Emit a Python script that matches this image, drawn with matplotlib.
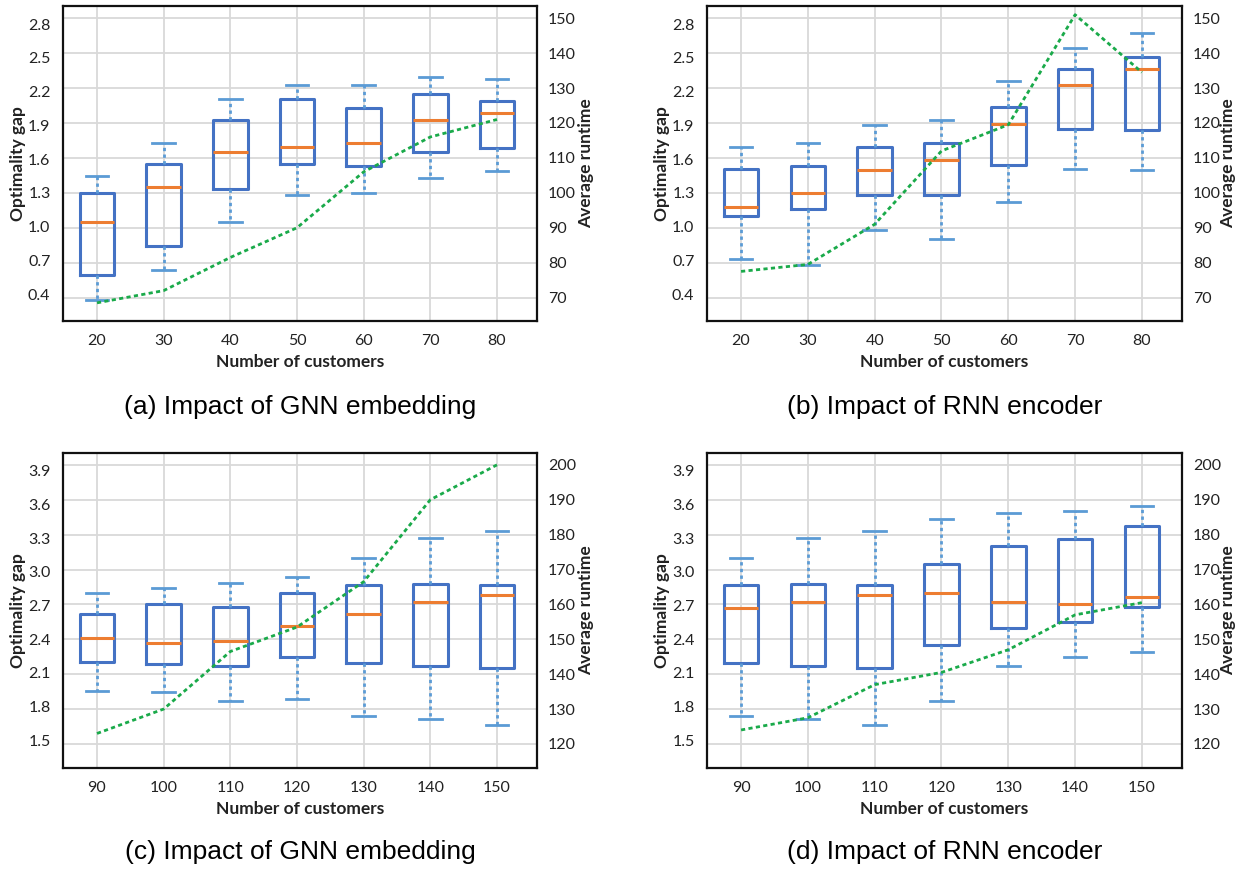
import matplotlib.pyplot as plt

W, H = 1240, 871

customers_small = [20, 30, 40, 50, 60, 70, 80]
customers_large = [90, 100, 110, 120, 130, 140, 150]

# (a) GNN embedding, small instances
a_low = [0.35, 0.61, 1.04, 1.28, 1.30, 1.43, 1.49]
a_q1 = [0.57, 0.83, 1.33, 1.56, 1.54, 1.66, 1.70]
a_med = [1.04, 1.35, 1.66, 1.71, 1.74, 1.95, 2.01]
a_q3 = [1.30, 1.56, 1.95, 2.13, 2.05, 2.18, 2.12]
a_high = [1.45, 1.74, 2.13, 2.26, 2.26, 2.33, 2.31]
a_runtime = [68.5, 72, 81.5, 90, 106, 116, 121]

# (b) RNN encoder, small instances
b_low = [0.71, 0.66, 0.97, 0.89, 1.22, 1.51, 1.50]
b_q1 = [1.09, 1.16, 1.28, 1.28, 1.55, 1.87, 1.86]
b_med = [1.17, 1.30, 1.50, 1.59, 1.91, 2.26, 2.40]
b_q3 = [1.51, 1.54, 1.71, 1.74, 2.06, 2.40, 2.51]
b_high = [1.71, 1.74, 1.90, 1.95, 2.29, 2.59, 2.72]
b_runtime = [77.5, 79.5, 91, 112, 119.5, 151, 134.5]

# (c) GNN embedding, large instances
c_low = [1.94, 1.93, 1.85, 1.87, 1.72, 1.69, 1.64]
c_q1 = [2.20, 2.18, 2.16, 2.24, 2.19, 2.16, 2.14]
c_med = [2.41, 2.37, 2.38, 2.52, 2.62, 2.73, 2.79]
c_q3 = [2.62, 2.71, 2.69, 2.81, 2.88, 2.89, 2.88]
c_high = [2.81, 2.86, 2.90, 2.95, 3.12, 3.30, 3.36]
c_runtime = [123, 130, 146.5, 153.5, 166.5, 190, 200]

# (d) RNN encoder, large instances
d_low = [1.72, 1.69, 1.64, 1.85, 2.16, 2.24, 2.29]
d_q1 = [2.19, 2.16, 2.14, 2.35, 2.50, 2.55, 2.69]
d_med = [2.68, 2.73, 2.79, 2.81, 2.73, 2.71, 2.78]
d_q3 = [2.88, 2.89, 2.88, 3.07, 3.23, 3.29, 3.41]
d_high = [3.12, 3.30, 3.36, 3.47, 3.52, 3.54, 3.59]
d_runtime = [124, 127.5, 137, 140.5, 147, 157, 160.5]

gap_ticks_small = [0.4, 0.7, 1.0, 1.3, 1.6, 1.9, 2.2, 2.5, 2.8]
gap_ticks_large = [1.5, 1.8, 2.1, 2.4, 2.7, 3.0, 3.3, 3.6, 3.9]
rt_ticks_small = [70, 80, 90, 100, 110, 120, 130, 140, 150]
rt_ticks_large = [120, 130, 140, 150, 160, 170, 180, 190, 200]

BOX = '#4472c4'
WHISK = '#5b9bd5'
MED = '#ed7d31'
LINE = '#1aaa4a'
GRID = '#d9d9d9'
TXT = '#222222'
TICKFONT = 'Lato'
CAPFONT = 'Liberation Sans'

fig = plt.figure(figsize=(W / 100, H / 100), dpi=100)


def panel(left, top, right, bottom, labels, low, q1, med, q3, high, runtime,
          gap_ticks, gap_lim, rt_ticks, rt_lim, caption, cap_y, rlab_off=49):
    ax = fig.add_axes([left / W, 1 - bottom / H, (right - left) / W, (bottom - top) / H])
    pos = list(range(1, len(labels) + 1))

    # right axis sits behind the boxes and carries the horizontal grid
    ax_rt = ax.twinx()
    ax_rt.set_ylim(*rt_lim)
    ax_rt.set_yticks(rt_ticks)
    ax_rt.yaxis.grid(True, color=GRID, lw=1.3)
    ax_rt.tick_params(length=0, labelsize=11.5, colors=TXT, pad=8)
    for lab in ax_rt.get_yticklabels():
        lab.set_fontfamily(TICKFONT)
    for s in ax_rt.spines.values():
        s.set_visible(False)
    ax_rt.set_zorder(1)
    ax.set_zorder(2)
    ax.patch.set_visible(False)

    stats = [dict(whislo=lo, q1=a, med=m, q3=b, whishi=hi, fliers=[])
             for lo, a, m, b, hi in zip(low, q1, med, q3, high)]
    ax.bxp(stats, positions=pos, widths=0.52, capwidths=0.34, showfliers=False,
           boxprops=dict(color=BOX, lw=2.2),
           whiskerprops=dict(color=WHISK, lw=2, ls=(0, (1.2, 1.2))),
           capprops=dict(color=WHISK, lw=2),
           medianprops=dict(color=MED, lw=2.2))
    ax.set_xlim(0.49, 7.6)
    ax.set_ylim(*gap_lim)
    ax.set_yticks(gap_ticks)
    ax.set_yticklabels([f'{v:.1f}' for v in gap_ticks])
    ax.set_xticks(pos)
    ax.set_xticklabels(labels)
    ax.xaxis.grid(True, color=GRID, lw=1.3)
    ax.set_axisbelow(True)
    ax.tick_params(length=0, labelsize=11.5, colors=TXT)
    ax.tick_params(axis='y', pad=9)
    ax.tick_params(axis='x', pad=9)
    for lab in ax.get_xticklabels() + ax.get_yticklabels():
        lab.set_fontfamily(TICKFONT)
    for s in ax.spines.values():
        s.set_color('#111111')
        s.set_linewidth(1.6)

    # runtime curve on top of everything
    ax_ln = ax.twinx()
    ax_ln.set_zorder(3)
    ax_ln.patch.set_visible(False)
    ax_ln.plot(pos, runtime, color=LINE, lw=2, ls=(0, (1.5, 1.2)))
    ax_ln.set_ylim(*rt_lim)
    ax_ln.set_yticks([])
    for s in ax_ln.spines.values():
        s.set_visible(False)

    w = right - left
    fig.text((left - 45) / W, 1 - (top + bottom) / 2 / H, 'Optimality gap', rotation=90,
             ha='center', va='center', fontsize=12.5, fontweight='bold', family=TICKFONT, color=TXT)
    fig.text((right + rlab_off) / W, 1 - (top + bottom) / 2 / H, 'Average runtime', rotation=90,
             ha='center', va='center', fontsize=12.5, fontweight='bold', family=TICKFONT, color=TXT)
    fig.text((left + w / 2) / W, 1 - (bottom + 41) / H, 'Number of customers',
             ha='center', va='center', fontsize=12.5, fontweight='bold', family=TICKFONT, color=TXT)
    fig.text((left + w / 2) / W, 1 - cap_y / H, caption,
             ha='center', va='center', fontsize=19, family=CAPFONT)


panel(63, 6, 537, 321, customers_small, a_low, a_q1, a_med, a_q3, a_high, a_runtime,
      gap_ticks_small, (0.16, 2.96), rt_ticks_small, (63.3, 153.5),
      '(a) Impact of GNN embedding', 407)
panel(707, 6, 1182, 321, customers_small, b_low, b_q1, b_med, b_q3, b_high, b_runtime,
      gap_ticks_small, (0.16, 2.96), rt_ticks_small, (63.3, 153.5),
      '(b) Impact of RNN encoder', 407, rlab_off=46)
panel(63, 453, 537, 768, customers_large, c_low, c_q1, c_med, c_q3, c_high, c_runtime,
      gap_ticks_large, (1.253, 4.058), rt_ticks_large, (113.1, 203.4),
      '(c) Impact of GNN embedding', 852)
panel(707, 453, 1182, 768, customers_large, d_low, d_q1, d_med, d_q3, d_high, d_runtime,
      gap_ticks_large, (1.253, 4.058), rt_ticks_large, (113.1, 203.4),
      '(d) Impact of RNN encoder', 852, rlab_off=46)

fig.savefig('out.png', dpi=100)
